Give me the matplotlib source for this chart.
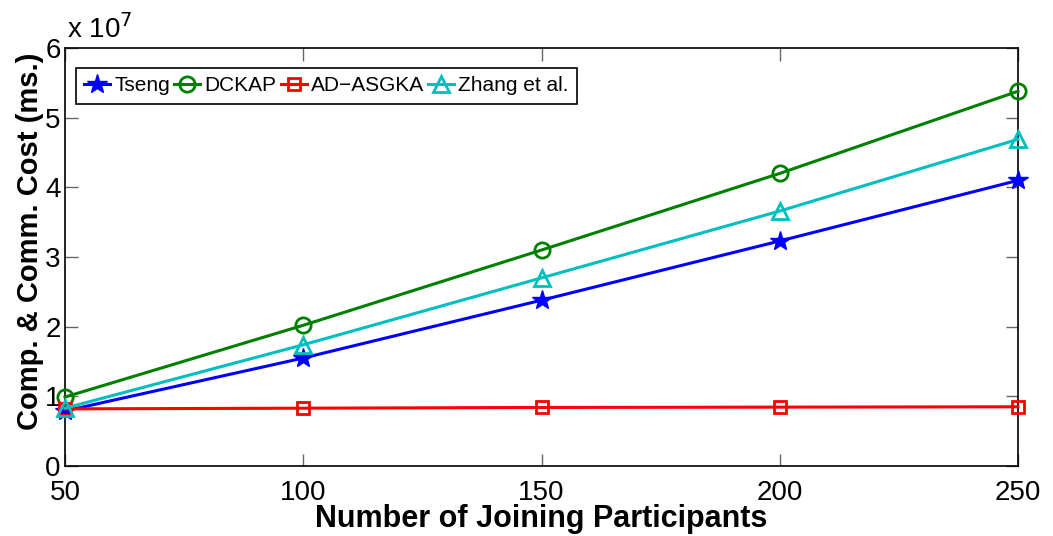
import numpy as np
import matplotlib.pyplot as plt

plt.rcParams['font.family'] = ['Liberation Sans', 'DejaVu Sans']

# dados (unidade: 1e7 ms)
participantes = [50, 100, 150, 200, 250]
tseng = [0.79, 1.55, 2.38, 3.23, 4.10]
dckap = [0.99, 2.02, 3.10, 4.20, 5.38]
ad_asgka = [0.82, 0.83, 0.84, 0.845, 0.85]
zhang = [0.83, 1.74, 2.70, 3.66, 4.69]

fig = plt.figure(figsize=(10.53, 5.36), dpi=100)
ax = fig.add_axes([0.0617, 0.1306, 0.9051, 0.7798])

ax.plot(participantes, tseng, color='b', lw=2.2, marker='*', ms=15,
        clip_on=False, zorder=3, label='Tseng')
ax.plot(participantes, dckap, color=(0, 0.5, 0), lw=2.2, marker='o', ms=11,
        mfc='none', mew=2, clip_on=False, zorder=3, label='DCKAP')
ax.plot(participantes, ad_asgka, color='r', lw=2.2, marker='s', ms=9,
        mfc='none', mew=2, clip_on=False, zorder=3, label='AD\u2212ASGKA')
ax.plot(participantes, zhang, color=(0, 0.75, 0.75), lw=2.2, marker='^', ms=12,
        mfc='none', mew=2, clip_on=False, zorder=3, label='Zhang et al.')

ax.set_xlim(50, 250)
ax.set_ylim(0, 6)
ax.set_xticks([50, 100, 150, 200, 250])
ax.set_yticks(range(7))
ax.tick_params(direction='in', length=9, width=1, color='0.4', labelsize=20,
               top=True, right=True)
ax.tick_params(axis='x', pad=10)
ax.tick_params(axis='y', pad=3)
for s in ax.spines.values():
    s.set_linewidth(1.2)

ax.text(0.002, 1.01, 'x 10$^{7}$', transform=ax.transAxes, fontsize=20, va='bottom', ha='left')

ax.set_xlabel('Number of Joining Participants', fontsize=22, fontweight='bold', labelpad=-1)
ax.set_ylabel('Comp. & Comm. Cost (ms.)', fontsize=21, fontweight='bold')
ax.yaxis.set_label_coords(-0.022, 0.538)

leg = ax.legend(loc='upper left', ncol=4, fontsize=15, handlelength=1.25,
                handletextpad=0.2, columnspacing=0.2, borderpad=0.4,
                borderaxespad=0, fancybox=False, edgecolor='k', framealpha=1,
                bbox_to_anchor=(0.0115, 0.952))
leg.get_frame().set_linewidth(1.2)

plt.savefig('out.png', dpi=100)
